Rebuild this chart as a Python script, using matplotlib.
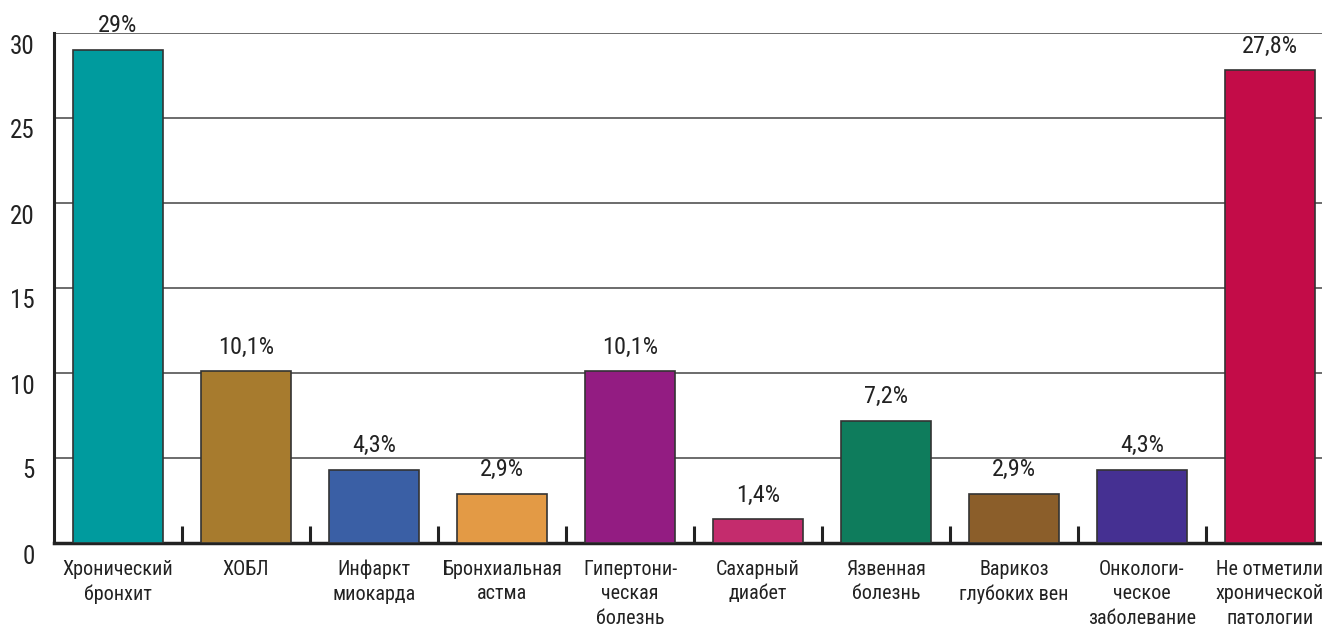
import matplotlib
matplotlib.use('Agg')
import matplotlib.pyplot as plt
from matplotlib.transforms import ScaledTranslation

plt.rcParams['font.family'] = ['Roboto Condensed', 'Roboto', 'DejaVu Sans']

categories = ['Хронический\nбронхит', 'ХОБЛ', 'Инфаркт\nмиокарда',
              'Бронхиальная\nастма', 'Гипертони-\nческая\nболезнь',
              'Сахарный\nдиабет', 'Язвенная\nболезнь', 'Варикоз\nглубоких вен',
              'Онкологи-\nческое\nзаболевание',
              'Не отметили\nхронической\nпатологии']
values = [29, 10.1, 4.3, 2.9, 10.1, 1.4, 7.2, 2.9, 4.3, 27.8]
value_labels = ['29%', '10,1%', '4,3%', '2,9%', '10,1%', '1,4%', '7,2%',
                '2,9%', '4,3%', '27,8%']
colors = ['#009B9E', '#A77B2E', '#3A5FA5', '#E39A45', '#931C82',
          '#C42C6D', '#0E7C5C', '#8B5E2A', '#453092', '#C30C48']
yticks = [0, 5, 10, 15, 20, 25, 30]

fig = plt.figure(figsize=(13.22, 6.29), dpi=100)
ax = fig.add_axes([54 / 1322, 86 / 629, 1280 / 1322, 510 / 629])

x = [i + 0.5 for i in range(len(values))]
ax.bar(x, values, width=0.71, color=colors, edgecolor='#333333',
       linewidth=1.2, zorder=3)

for xi, v, lab in zip(x, values, value_labels):
    ax.annotate(lab, (xi, v), xytext=(0, 9), textcoords='offset points',
                ha='center', va='bottom', fontsize=17.5, color='#222222')

ax.set_xlim(0, 10)
ax.set_ylim(0, 30)
ax.set_yticks(yticks)
ax.set_yticklabels([str(t) for t in yticks], fontsize=18, color='#222222')
ax.tick_params(axis='y', length=0, pad=14)
for lab in ax.get_yticklabels():
    lab.set_transform(lab.get_transform() +
                      ScaledTranslation(0, -11 / 100, fig.dpi_scale_trans))

ax.set_xticks(x)
ax.set_xticklabels(categories, fontsize=14.5, color='#222222',
                   linespacing=1.38)
ax.tick_params(axis='x', which='major', length=0, pad=12)
ax.set_xticks(range(1, 10), minor=True)
ax.tick_params(axis='x', which='minor', direction='in', length=12,
               width=2.2, color='#222222')

ax.yaxis.grid(True, color='#444444', linewidth=1.1, zorder=0)
ax.set_axisbelow(True)
for s in ['top', 'right']:
    ax.spines[s].set_visible(False)
ax.spines['left'].set_linewidth(2.2)
ax.spines['bottom'].set_linewidth(2.5)
ax.spines['left'].set_color('#222222')
ax.spines['bottom'].set_color('#222222')

fig.savefig('out.png', dpi=100)
